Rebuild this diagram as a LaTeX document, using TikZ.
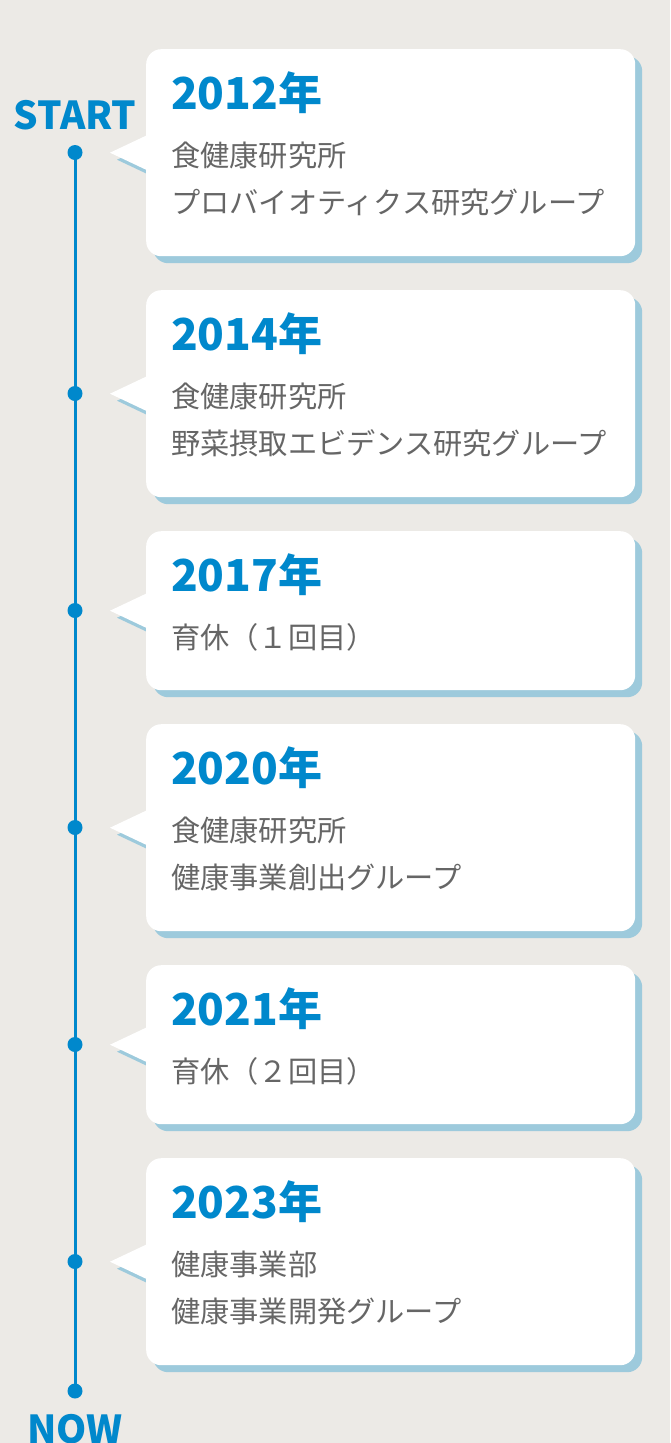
\documentclass[tikz,border=0pt]{standalone}
\usepackage{fontspec}
\usepackage{xcolor}
\usetikzlibrary{calc}
\setmainfont{Noto Sans CJK JP}
\definecolor{tlblue}{HTML}{0088CC}
\definecolor{tlbg}{HTML}{ECEAE6}
\definecolor{tlshade}{HTML}{9DCADC}
\definecolor{tlgrey}{HTML}{666666}
\tikzset{
  dot/.style={circle,fill=tlblue,inner sep=0pt,minimum size=15pt},
  axis/.style={draw=tlblue,line width=3pt},
  card/.style={fill=white,rounded corners=15pt,minimum width=489pt,inner sep=0pt,anchor=north west},
  shade/.style={card,fill=tlshade},
  year/.style={anchor=base west,inner sep=0pt,text=tlblue,font=\fontsize{44}{44}\selectfont\bfseries},
  body/.style={anchor=base west,inner sep=0pt,text=tlgrey,font=\fontsize{29.2}{29.2}\selectfont},
  ends/.style={anchor=base,inner sep=0pt,text=tlblue,font=\fontsize{38.5}{38.5}\selectfont\bfseries}
}
\begin{document}
\begin{tikzpicture}[x=1pt,y=-1pt]
\fill[tlbg] (0,0) rectangle (670,1443);
\useasboundingbox (0,0) rectangle (670,1443);

% timeline
\node[ends] (lstart) at (75,129) {START};
\node[ends] (lnow) at (75,1443) {NOW};
\node (d0) at (75,1391) [dot] {};
\draw[axis] (75,153) -- (d0.center);

\foreach \n/\top/\h/\yr/\la/\lb in {
  1/49/207/2012年/食健康研究所/プロバイオティクス研究グループ,
  2/290/207/2014年/食健康研究所/野菜摂取エビデンス研究グループ,
  3/531/159/2017年/育休（１回目）/,
  4/724/207/2020年/食健康研究所/健康事業創出グループ,
  5/965/159/2021年/育休（２回目）/,
  6/1158/207/2023年/健康事業部/健康事業開発グループ}{
  \node[shade,minimum height=\h pt] (s\n) at (153,\top+7) {};
  \fill[tlshade] ($(s\n.west)+(0,-17)$) -- ($(s\n.west)+(-36,0)$) -- ($(s\n.west)+(0,17)$) -- cycle;
  \node[card,minimum height=\h pt] (b\n) at (146,\top) {};
  \fill[white] ($(b\n.west)+(0,-17)$) -- ($(b\n.west)+(-36,0)$) -- ($(b\n.west)+(0,17)$) -- cycle;
  \node[year] (y\n) at ($(b\n.north west)+(25,60)$) {\yr};
  \node[body] (a\n) at ($(b\n.north west)+(25,117)$) {\la};
  \node[body] (c\n) at ($(b\n.north west)+(25,164)$) {\lb};
  \node (d\n) at (75,\top+\h/2) [dot] {};
}
\end{tikzpicture}
\end{document}
